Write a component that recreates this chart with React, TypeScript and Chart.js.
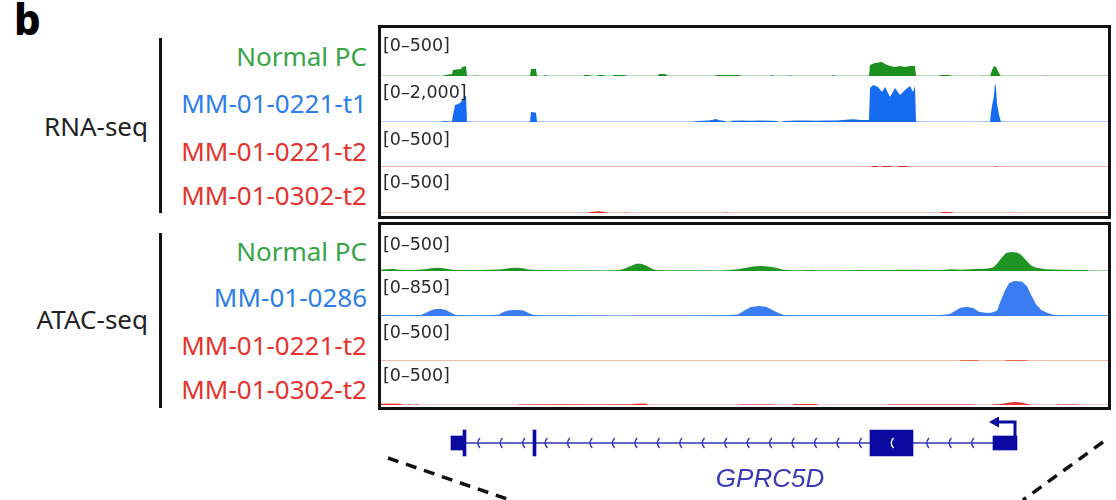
import React, { useEffect, useRef } from "react";
import { Chart, registerables } from "chart.js";

Chart.register(...registerables);

type Pt = [number, number];

// Genomic window expressed in bins (one bin per screen column of the track area)
const WINDOW_START = 0;
const WINDOW_END = 727;

// ---------- RNA-seq tracks ----------
const rnaNormalPC: Pt[] = [
  [0, 0], [62, 0], [64, 11], [71, 22], [72, 65], [80, 76], [81, 98], [85, 108], [86, 0],
  [93, 0], [94, 11], [95, 0],
  [149, 0], [150, 76], [155, 76], [156, 0],
  [163, 0], [164, 11], [166, 0],
  [202, 0], [203, 11], [209, 11], [210, 0],
  [216, 0], [217, 11], [223, 11], [224, 0],
  [231, 0], [232, 11], [244, 11], [245, 0],
  [277, 0], [278, 22], [284, 22], [287, 0],
  [334, 0], [335, 11], [359, 11], [360, 0],
  [390, 0], [391, 11], [393, 0],
  [408, 0], [409, 11], [411, 0],
  [451, 0], [452, 11], [454, 0],
  [488, 0], [489, 120], [494, 141], [501, 152], [504, 130], [509, 108], [514, 98], [519, 108], [524, 98], [529, 108], [534, 108], [535, 0],
  [558, 0], [559, 11], [569, 11], [570, 0],
  [601, 0], [602, 5], [604, 0],
  [609, 0], [611, 65], [613, 108], [615, 98], [617, 54], [619, 11], [620, 0],
  [663, 0], [664, 8], [666, 0], [727, 0],
];

const rnaMM0221t1: Pt[] = [
  [0, 0], [60, 0], [61, 30], [67, 30], [69, 0],
  [70, 0], [71, 40], [72, 300], [74, 730], [78, 800], [80, 870], [83, 1050], [85, 1160], [86, 0],
  [149, 0], [150, 435], [152, 420], [155, 400], [156, 0],
  [313, 0], [315, 40], [322, 50], [328, 70], [332, 100], [335, 130], [338, 80], [343, 50], [346, 0],
  [349, 0], [351, 50], [360, 60], [370, 50], [380, 70], [390, 55], [396, 40], [397, 0],
  [402, 0], [403, 40], [415, 60], [425, 70], [435, 50], [445, 60], [455, 70], [465, 100], [472, 120], [480, 90], [488, 90],
  [489, 1480], [492, 1610], [497, 1520], [501, 1300], [504, 1520], [509, 1090], [514, 1480], [519, 1170], [524, 1390], [529, 1570], [532, 1300], [534, 1570], [535, 0],
  [609, 0], [610, 400], [611, 700], [613, 1150], [614, 1700], [615, 1500], [616, 800], [618, 300], [620, 0], [727, 0],
];

const rnaMM0221t2: Pt[] = [
  [0, 0], [490, 0], [491, 10], [497, 10], [498, 0], [500, 0], [501, 12], [510, 12], [511, 0],
  [516, 0], [517, 10], [526, 10], [527, 0], [613, 0], [614, 8], [616, 0], [727, 0],
];

const rnaMM0302t2: Pt[] = [
  [0, 0], [206, 0], [208, 8], [214, 16], [218, 18], [222, 14], [226, 6], [228, 0],
  [243, 0], [244, 8], [246, 0], [344, 0], [345, 8], [347, 0],
  [559, 0], [560, 10], [571, 10], [572, 0], [631, 0], [632, 6], [634, 0], [727, 0],
];

// ---------- ATAC-seq tracks ----------
const atacNormalPC: Pt[] = [
  [0, 15], [5, 20], [12, 22], [17, 15], [25, 10], [35, 10], [44, 20], [50, 30], [57, 35], [64, 28], [70, 18], [74, 10],
  [80, 12], [90, 10], [100, 12], [110, 15], [120, 18], [124, 25], [130, 32], [136, 35], [142, 30], [147, 18], [155, 12],
  [165, 10], [175, 8], [190, 5], [200, 6], [215, 5], [225, 4], [237, 8], [243, 25], [250, 55], [255, 80], [260, 80],
  [265, 60], [270, 30], [274, 10], [285, 5], [297, 6], [305, 5], [320, 6], [340, 4], [357, 20], [365, 35], [372, 50],
  [380, 55], [387, 50], [395, 35], [402, 15], [410, 8], [420, 6], [430, 10], [440, 6], [455, 5], [470, 8], [480, 10],
  [490, 8], [500, 12], [510, 10], [530, 15], [560, 12], [570, 20], [580, 15], [595, 22], [605, 25], [612, 40], [616, 80],
  [620, 140], [625, 200], [630, 210], [636, 205], [640, 180], [645, 120], [650, 60], [655, 35], [665, 20], [680, 15],
  [695, 12], [706, 10], [708, 0], [727, 0],
];

const atacMM0286: Pt[] = [
  [0, 15], [10, 18], [20, 15], [30, 12], [40, 20], [45, 60], [50, 110], [55, 130], [60, 130], [65, 115], [70, 60], [74, 25],
  [80, 15], [95, 12], [110, 15], [118, 30], [123, 80], [128, 110], [135, 115], [142, 110], [147, 60], [152, 20], [160, 15],
  [170, 10], [185, 12], [200, 8], [220, 10], [240, 6], [260, 8], [280, 10], [300, 8], [320, 10], [345, 15], [357, 30],
  [363, 100], [370, 170], [378, 190], [385, 175], [392, 110], [398, 50], [403, 20], [410, 15], [430, 15], [450, 12],
  [470, 15], [490, 14], [510, 15], [530, 14], [550, 15], [560, 20], [569, 40], [575, 110], [580, 160], [586, 170],
  [592, 150], [598, 80], [604, 60], [610, 60], [616, 100], [620, 300], [624, 480], [628, 620], [633, 660], [641, 650],
  [646, 560], [650, 400], [655, 220], [660, 120], [666, 60], [672, 25], [680, 15], [727, 12],
];

const atacMM0221t2: Pt[] = [
  [0, 0], [579, 0], [580, 10], [597, 10], [598, 0], [624, 0], [625, 10], [646, 10], [647, 0], [727, 0],
];

const atacMM0302t2: Pt[] = [
  [0, 15], [8, 18], [18, 14], [24, 0], [27, 0], [28, 10], [31, 0], [34, 0], [35, 10], [38, 0],
  [137, 0], [138, 6], [180, 8], [215, 6], [250, 8], [254, 15], [260, 18], [266, 15], [267, 0],
  [358, 0], [359, 6], [392, 6], [393, 0], [412, 0], [412, 10], [436, 10], [437, 0],
  [506, 0], [506, 6], [592, 6], [593, 0], [610, 0], [612, 5], [620, 12], [627, 25], [634, 33], [640, 28],
  [645, 15], [649, 5], [650, 0], [676, 0], [676, 6], [696, 6], [697, 0], [727, 0],
];

// ---------- Gene model (GPRC5D, minus strand) ----------
const geneName = "GPRC5D";
const geneStart = 70;
const geneEnd = 636;
const codingExons: [number, number][] = [[82, 85], [152, 155], [489, 532]];
const utrExons: [number, number][] = [[70, 82], [612, 636]];
const tssPos = 634;
const tssArrowTip = 608;

// ---------- Track descriptions ----------
const GREEN = "#36a447";
const BLUE = "#2d7ee8";
const RED = "#e3342f";

interface TrackDef {
  name: string;
  labelColor: string;
  range: string;
  max: number;
  points: Pt[];
  fill: string;
  base: string;
  top: number;
  height: number;
  labelTop: number;
  nameY: number;
}

const rnaTracks: TrackDef[] = [
  { name: "Normal PC", labelColor: GREEN, range: "[0–500]", max: 500, points: rnaNormalPC, fill: "#1b901f", base: "#9fd6a0", top: 30, height: 47, labelTop: 35, nameY: 57 },
  { name: "MM-01-0221-t1", labelColor: BLUE, range: "[0–2,000]", max: 2000, points: rnaMM0221t1, fill: "#156cf2", base: "#8fb9f3", top: 76, height: 47, labelTop: 82, nameY: 104 },
  { name: "MM-01-0221-t2", labelColor: RED, range: "[0–500]", max: 500, points: rnaMM0221t2, fill: "#e02a2a", base: "#e99898", top: 121, height: 47, labelTop: 129, nameY: 152 },
  { name: "MM-01-0302-t2", labelColor: RED, range: "[0–500]", max: 500, points: rnaMM0302t2, fill: "#ea2b2b", base: "#f0b0b0", top: 167, height: 47, labelTop: 172, nameY: 196 },
];

const atacTracks: TrackDef[] = [
  { name: "Normal PC", labelColor: GREEN, range: "[0–500]", max: 500, points: atacNormalPC, fill: "#1f9422", base: "#7cc67e", top: 226, height: 46, labelTop: 234, nameY: 252 },
  { name: "MM-01-0286", labelColor: BLUE, range: "[0–850]", max: 850, points: atacMM0286, fill: "#3a7df2", base: "#7ea7f2", top: 271, height: 46, labelTop: 277, nameY: 298 },
  { name: "MM-01-0221-t2", labelColor: RED, range: "[0–500]", max: 500, points: atacMM0221t2, fill: "#ee6a50", base: "#f0a48e", top: 316, height: 46, labelTop: 322, nameY: 346 },
  { name: "MM-01-0302-t2", labelColor: RED, range: "[0–500]", max: 500, points: atacMM0302t2, fill: "#ee3030", base: "#f4b4b4", top: 360, height: 46, labelTop: 365, nameY: 390 },
];

const TRACK_LEFT = 381;
const TRACK_WIDTH = 727;

function Track({ t }: { t: TrackDef }) {
  const ref = useRef<HTMLCanvasElement>(null);
  useEffect(() => {
    const chart = new Chart(ref.current as HTMLCanvasElement, {
      type: "line",
      data: {
        datasets: [
          {
            data: t.points.map(([x, y]) => ({ x, y })),
            borderWidth: 0,
            borderColor: t.fill,
            backgroundColor: t.fill,
            pointRadius: 0,
            fill: "origin",
            tension: 0,
            order: 1,
          },
          {
            data: [{ x: WINDOW_START, y: 0 }, { x: WINDOW_END, y: 0 }],
            borderWidth: 1.4,
            borderColor: t.base,
            pointRadius: 0,
            fill: false,
            order: 2,
          },
        ],
      },
      options: {
        animation: false,
        responsive: false,
        maintainAspectRatio: false,
        events: [],
        layout: { padding: { bottom: 1 } },
        plugins: { legend: { display: false }, tooltip: { enabled: false } },
        scales: {
          x: { type: "linear", min: WINDOW_START, max: WINDOW_END, display: false },
          y: { type: "linear", min: 0, max: t.max, display: false },
        },
      },
    });
    return () => chart.destroy();
  }, []);
  return (
    <canvas
      ref={ref}
      width={TRACK_WIDTH}
      height={t.height}
      style={{ position: "absolute", left: TRACK_LEFT, top: t.top, width: TRACK_WIDTH, height: t.height, display: "block" }}
    />
  );
}

const EXON = "#0a0aa0";
const INTRON = "#3535b5";

function drawChevron(ctx: CanvasRenderingContext2D, px: number, y: number, color: string) {
  ctx.strokeStyle = color;
  ctx.lineWidth = 1.4;
  ctx.beginPath();
  ctx.moveTo(px + 2, y - 5);
  ctx.quadraticCurveTo(px - 2.5, y, px + 2, y + 5);
  ctx.stroke();
}

const genePlugin = {
  id: "geneModel",
  beforeDatasetsDraw(chart: any) {
    const { ctx, chartArea } = chart;
    const x = chart.scales.x;
    const yc = (chartArea.top + chartArea.bottom) / 2;
    ctx.save();
    ctx.strokeStyle = INTRON;
    ctx.lineWidth = 1.5;
    ctx.beginPath();
    ctx.moveTo(x.getPixelForValue(geneStart), yc);
    ctx.lineTo(x.getPixelForValue(geneEnd), yc);
    ctx.stroke();
    const all = [...codingExons, ...utrExons];
    for (let p = 97; p < geneEnd; p += 22.45) {
      if (all.some(([a, b]) => p > a - 4 && p < b + 4)) continue;
      drawChevron(ctx, x.getPixelForValue(p), yc, INTRON);
    }
    ctx.restore();
  },
  afterDatasetsDraw(chart: any) {
    const { ctx, chartArea, height } = chart;
    const x = chart.scales.x;
    const yc = (chartArea.top + chartArea.bottom) / 2;
    ctx.save();
    // white chevrons inside wide exons
    for (const [a, b] of codingExons) {
      if (b - a > 20) drawChevron(ctx, x.getPixelForValue((a + b) / 2), yc, "#ffffff");
    }
    // TSS arrow
    const ax = x.getPixelForValue(tssPos);
    const tip = x.getPixelForValue(tssArrowTip);
    const ay = yc - 21;
    ctx.strokeStyle = EXON;
    ctx.fillStyle = EXON;
    ctx.lineWidth = 3;
    ctx.lineJoin = "miter";
    ctx.beginPath();
    ctx.moveTo(ax, yc - 6);
    ctx.lineTo(ax, ay);
    ctx.lineTo(tip + 8, ay);
    ctx.stroke();
    ctx.beginPath();
    ctx.moveTo(tip, ay);
    ctx.lineTo(tip + 10, ay - 5.5);
    ctx.lineTo(tip + 10, ay + 5.5);
    ctx.closePath();
    ctx.fill();
    // zoom guide lines
    ctx.strokeStyle = "#111111";
    ctx.lineWidth = 3.5;
    ctx.setLineDash([11, 8]);
    ctx.beginPath();
    ctx.moveTo(x.getPixelForValue(7), 46);
    ctx.lineTo(x.getPixelForValue(129), height);
    ctx.stroke();
    ctx.beginPath();
    ctx.moveTo(x.getPixelForValue(722), 30);
    ctx.lineTo(x.getPixelForValue(642), height);
    ctx.stroke();
    ctx.restore();
  },
};

function GeneModel() {
  const ref = useRef<HTMLCanvasElement>(null);
  useEffect(() => {
    const toBars = (arr: [number, number][]) => arr.map(([a, b]) => ({ x: [a, b], y: geneName }));
    const chart = new Chart(ref.current as HTMLCanvasElement, {
      type: "bar",
      data: {
        labels: [geneName],
        datasets: [
          { data: toBars(codingExons) as any, backgroundColor: EXON, barThickness: 26, grouped: false, borderWidth: 0 } as any,
          { data: toBars(utrExons) as any, backgroundColor: EXON, barThickness: 14, grouped: false, borderWidth: 0 } as any,
        ],
      },
      options: {
        indexAxis: "y",
        animation: false,
        responsive: false,
        maintainAspectRatio: false,
        events: [],
        layout: { padding: { bottom: 26 } },
        plugins: { legend: { display: false }, tooltip: { enabled: false } },
        scales: {
          x: { type: "linear", min: WINDOW_START, max: WINDOW_END, display: false },
          y: { type: "category", display: false },
        },
      },
      plugins: [genePlugin],
    });
    return () => chart.destroy();
  }, []);
  return (
    <canvas
      ref={ref}
      width={TRACK_WIDTH}
      height={88}
      style={{ position: "absolute", left: TRACK_LEFT, top: 412, width: TRACK_WIDTH, height: 88, display: "block" }}
    />
  );
}

const nameFont: React.CSSProperties = {
  position: "absolute",
  fontFamily: "'Noto Sans', 'Open Sans', sans-serif",
  fontSize: 26,
  lineHeight: "30px",
  whiteSpace: "nowrap",
};

export default function App() {
  const all = [...rnaTracks, ...atacTracks];
  return (
    <div style={{ position: "absolute", left: 0, top: 0, width: 1116, height: 500, background: "#fff", overflow: "hidden" }}>
      <div style={{ position: "absolute", left: 14, top: -3, fontFamily: "'Noto Sans', sans-serif", fontWeight: 800, fontSize: 42, lineHeight: "44px", color: "#000" }}>b</div>

      <div style={{ ...nameFont, left: 0, width: 148, textAlign: "right", top: 127 - 16, color: "#222" }}>RNA-seq</div>
      <div style={{ ...nameFont, left: 0, width: 148, textAlign: "right", top: 320 - 16, color: "#222" }}>ATAC-seq</div>
      <div style={{ position: "absolute", left: 159, top: 38, width: 3, height: 175, background: "#111" }} />
      <div style={{ position: "absolute", left: 159, top: 233, width: 3, height: 175, background: "#111" }} />

      {all.map((t, i) => (
        <div key={"n" + i} style={{ ...nameFont, left: 0, width: 367, textAlign: "right", top: t.nameY - 16, color: t.labelColor }}>
          {t.name}
        </div>
      ))}

      {all.map((t, i) => (
        <Track key={"t" + i} t={t} />
      ))}

      {all.map((t, i) => (
        <div
          key={"r" + i}
          style={{ position: "absolute", left: 383, top: t.labelTop, fontFamily: "'DejaVu Sans', sans-serif", fontSize: 17.5, lineHeight: "20px", color: "#2a2a2a", whiteSpace: "nowrap" }}
        >
          {t.range}
        </div>
      ))}

      <div style={{ position: "absolute", left: 378, top: 25, width: 733, height: 194, border: "3px solid #111", boxSizing: "border-box" }} />
      <div style={{ position: "absolute", left: 378, top: 222, width: 733, height: 188, border: "3px solid #111", boxSizing: "border-box" }} />

      <GeneModel />

      <div style={{ position: "absolute", left: 670, width: 200, top: 463, textAlign: "center", fontFamily: "'Liberation Sans', Arial, sans-serif", fontStyle: "italic", fontSize: 26, lineHeight: "30px", color: "#3a3ab5" }}>
        {geneName}
      </div>
    </div>
  );
}
